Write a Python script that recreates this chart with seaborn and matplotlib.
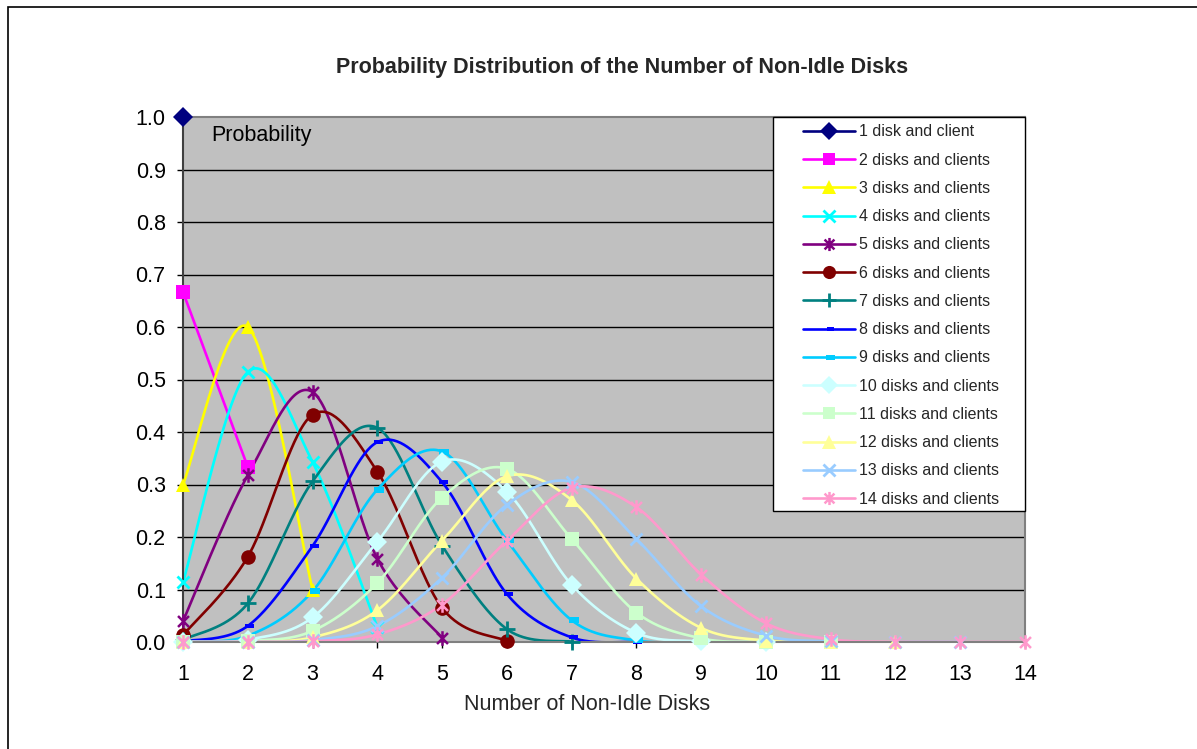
import numpy as np
import matplotlib
matplotlib.use("Agg")
import matplotlib.pyplot as plt
from matplotlib.path import Path
from matplotlib.lines import Line2D
from matplotlib.patches import Rectangle
import seaborn as sns
import pandas as pd

sns.set_theme(style="white")
plt.rcParams["font.family"] = ["Liberation Sans", "DejaVu Sans"]

# Probability of k non-idle disks, one series per system size (k = 1..n)
p1 = [1.0]
p2 = [0.6667, 0.3333]
p3 = [0.3, 0.6, 0.1]
p4 = [0.1143, 0.5143, 0.3429, 0.0286]
p5 = [0.0397, 0.3175, 0.4762, 0.1587, 0.0079]
p6 = [0.0130, 0.1623, 0.4329, 0.3247, 0.0649, 0.0022]
p7 = [0.0041, 0.0734, 0.3059, 0.4079, 0.1836, 0.0245, 0.0006]
p8 = [0.0012, 0.0305, 0.1828, 0.3807, 0.3046, 0.0914, 0.0087, 0.0002]
p9 = [0.0004, 0.0118, 0.0968, 0.2903, 0.3628, 0.1935, 0.0415, 0.0030, 0.0000]
p10 = [0.0001, 0.0044, 0.0468, 0.1910, 0.3437, 0.2864, 0.1091, 0.0175,
       0.0010, 0.0000]
p11 = [0.0000, 0.0016, 0.0211, 0.1123, 0.2751, 0.3301, 0.1965, 0.0561,
       0.0070, 0.0003, 0.0000]
p12 = [0.0000, 0.0005, 0.0089, 0.0604, 0.1933, 0.3157, 0.2706, 0.1208,
       0.0268, 0.0027, 0.0001, 0.0000]
p13 = [0.0000, 0.0002, 0.0036, 0.0302, 0.1225, 0.2613, 0.3049, 0.1960,
       0.0681, 0.0121, 0.0010, 0.0000, 0.0000]
p14 = [0.0000, 0.0001, 0.0014, 0.0143, 0.0714, 0.1927, 0.2936, 0.2569,
       0.1285, 0.0357, 0.0052, 0.0004, 0.0000, 0.0000]

series = [p1, p2, p3, p4, p5, p6, p7, p8, p9, p10, p11, p12, p13, p14]
labels = ["1 disk and client"] + [f"{n} disks and clients" for n in range(2, 15)]
x_ticks = list(range(1, 15))
y_ticks = [i / 10 for i in range(11)]

colors = ["#000080", "#FF00FF", "#FFFF00", "#00FFFF", "#800080", "#800000",
          "#008080", "#0000FF", "#00CCFF", "#CCFFFF", "#CCFFCC", "#FFFF99",
          "#99CCFF", "#FF99CC"]

# custom marker shapes
asterisk = Path([(0, -1), (0, 1), (-0.75, -0.75), (0.75, 0.75),
                 (-0.75, 0.75), (0.75, -0.75)],
                [Path.MOVETO, Path.LINETO, Path.MOVETO, Path.LINETO,
                 Path.MOVETO, Path.LINETO])
dash = Path([(-0.5, -0.4), (1.0, -0.4), (1.0, 0.4), (-0.5, 0.4), (-0.5, -0.4)],
            [Path.MOVETO, Path.LINETO, Path.LINETO, Path.LINETO, Path.CLOSEPOLY])

marker_styles = [
    dict(marker="D", ms=10, mfc=None, mew=0),
    dict(marker="s", ms=10, mfc=None, mew=0),
    dict(marker="^", ms=10.5, mfc=None, mew=0),
    dict(marker="x", ms=9, mfc="none", mew=2),
    dict(marker=asterisk, ms=10.5, mfc="none", mew=1.8),
    dict(marker="o", ms=10.5, mfc=None, mew=0),
    dict(marker="+", ms=11, mfc="none", mew=2),
    dict(marker=dash, ms=8, mfc=None, mew=0),
    dict(marker=dash, ms=10, mfc=None, mew=0),
    dict(marker="D", ms=10, mfc=None, mew=0),
    dict(marker="s", ms=10, mfc=None, mew=0),
    dict(marker="^", ms=10.5, mfc=None, mew=0),
    dict(marker="x", ms=9, mfc="none", mew=2),
    dict(marker=asterisk, ms=10.5, mfc="none", mew=1.8),
]


def smooth(xs, ys, steps=40):
    """Cubic Bezier smoothing through every point (Excel-style smoothed line)."""
    pts = np.column_stack([xs, ys]).astype(float)
    n = len(pts)
    if n < 2:
        return pts[:, 0], pts[:, 1]
    t = np.linspace(0, 1, steps)[:, None]
    out = []
    for i in range(n - 1):
        p0, p3_ = pts[i], pts[i + 1]
        prev = pts[i - 1] if i > 0 else pts[i]
        nxt = pts[i + 2] if i + 2 < n else pts[i + 1]
        c1 = p0 + (p3_ - prev) / 6.0
        c2 = p3_ - (nxt - p0) / 6.0
        seg = ((1 - t) ** 3) * p0 + 3 * ((1 - t) ** 2) * t * c1 \
            + 3 * (1 - t) * t ** 2 * c2 + t ** 3 * p3_
        out.append(seg if i == 0 else seg[1:])
    arr = np.vstack(out)
    return arr[:, 0], arr[:, 1]


fig = plt.figure(figsize=(11.97, 7.49), dpi=100)
ax = fig.add_axes([183 / 1197, 1 - 642 / 749, 842 / 1197, 525 / 749])
ax.set_facecolor("#C0C0C0")

# outer chart frame
fig.patches.append(Rectangle((8 / 1197, -0.1), 1.2, 1 - 7 / 749 + 0.1,
                             transform=fig.transFigure, fill=False,
                             edgecolor="black", linewidth=1.2))

for y in y_ticks[1:-1]:
    ax.axhline(y, color="#000000", linewidth=1.0, zorder=1)

handles = []
for idx, (vals, col, ms) in enumerate(zip(series, colors, marker_styles)):
    xs = np.arange(1, len(vals) + 1)
    cx, cy = smooth(xs, np.array(vals))
    if len(vals) > 1:
        df = pd.DataFrame({"x": cx, "y": cy})
        sns.lineplot(data=df, x="x", y="y", sort=False, estimator=None,
                     color=col, linewidth=1.9, ax=ax, zorder=2 + idx * 0.01)
    mfc = col if ms["mfc"] is None else ms["mfc"]
    ax.plot(xs, vals, linestyle="none", marker=ms["marker"], ms=ms["ms"],
            mfc=mfc, mec=col, mew=ms["mew"], clip_on=False,
            zorder=3 + idx * 0.01)
    handles.append(Line2D([], [], color=col, linewidth=1.9,
                          marker=ms["marker"], ms=ms["ms"] * 0.9, mfc=mfc,
                          mec=col, mew=ms["mew"]))

ax.set_xlim(1, 14)
ax.set_ylim(0, 1.0)
ax.set_xticks(x_ticks)
ax.set_xticklabels([str(v) for v in x_ticks])
ax.set_yticks(y_ticks)
ax.set_yticklabels([f"{v:.1f}" for v in y_ticks])
ax.tick_params(axis="both", labelsize=15.5, colors="black", direction="out",
               length=4.5, width=1, bottom=True, left=True)
ax.tick_params(axis="x", pad=11)
ax.tick_params(axis="y", pad=8)
ax.set_xlabel("")
ax.set_ylabel("")

for side in ["top", "right", "bottom"]:
    ax.spines[side].set_color("#808080")
    ax.spines[side].set_linewidth(1.5)
ax.spines["left"].set_color("#404040")
ax.spines["left"].set_linewidth(1.5)

ax.text((211 - 183) / 842, 1 - (136 - 117) / 525, "Probability",
        transform=ax.transAxes, fontsize=15.5, ha="left", va="center",
        color="black")

# legend box
lx0 = (773 - 183) / 842
ly0 = (642 - 511) / 525
ax.add_patch(Rectangle((lx0, ly0), 1 - lx0, 1 - ly0, transform=ax.transAxes,
                       facecolor="white", edgecolor="black", linewidth=1.0,
                       zorder=5, clip_on=False))
leg = ax.legend(handles, labels, loc="upper left",
                bbox_to_anchor=((797 - 183) / 842, 1 - 1 / 525),
                frameon=False, fontsize=11.5, handlelength=3.2,
                handletextpad=0.3, labelspacing=0.83, borderpad=0.4,
                borderaxespad=0)
leg.set_zorder(6)

fig.text(622 / 1197, 1 - 67 / 749, "Probability Distribution of the Number of Non-Idle Disks",
         ha="center", va="center", fontsize=15.5, fontweight="bold")
fig.text(587 / 1197, 1 - 704 / 749, "Number of Non-Idle Disks",
         ha="center", va="center", fontsize=15.5)

fig.savefig("out.png", dpi=100, facecolor="white")
